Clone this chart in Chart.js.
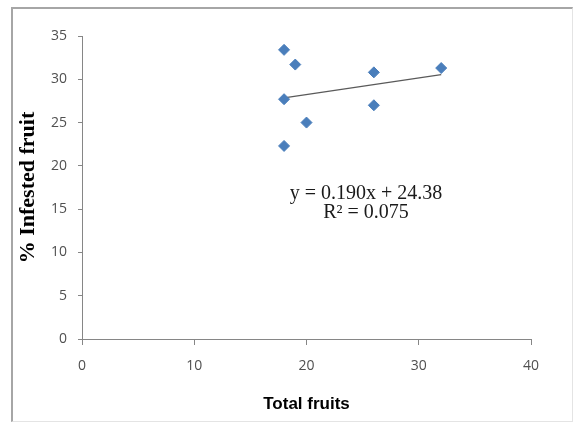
<!DOCTYPE html>
<html>
<head>
<meta charset="utf-8">
<script src="https://cdn.jsdelivr.net/npm/chart.js@4"></script>
<style>
  html, body { margin: 0; padding: 0; background: #fff; }
  #wrap { position: relative; width: 574px; height: 423px; }
  #frame {
    position: absolute; left: 11px; top: 7px; right: 1px; bottom: 1px;
    border-left: 2px solid #a6a6a6; border-top: 2px solid #a6a6a6;
    border-right: 1px solid #e4e4e4; border-bottom: 1px solid #e4e4e4;
  }
  #chart { position: absolute; left: 0; top: 0; }
</style>
</head>
<body>
<div id="wrap">
  <div id="frame"></div>
  <canvas id="chart" width="574" height="423"></canvas>
</div>
<script>
// total fruits per sample and % infested fruit
const totalFruits = [18, 19, 26, 32, 18, 26, 20, 18];
const infestedPct = [33.4, 31.7, 30.8, 31.3, 27.7, 27.0, 25.0, 22.3];

const xTicks = [0, 10, 20, 30, 40];
const yTicks = [0, 5, 10, 15, 20, 25, 30, 35];

const xTitle = "Total fruits";
const yTitle = "% Infested fruit";
const equationText = "y = 0.190x + 24.38";
const rSquaredText = "R\u00B2 = 0.075";

// least squares fit of the points, drawn between the smallest and largest x
function linearFit(xs, ys) {
  const n = xs.length;
  const mx = xs.reduce((a, b) => a + b, 0) / n;
  const my = ys.reduce((a, b) => a + b, 0) / n;
  let sxy = 0;
  let sxx = 0;
  for (let i = 0; i < n; i++) {
    sxy += (xs[i] - mx) * (ys[i] - my);
    sxx += (xs[i] - mx) * (xs[i] - mx);
  }
  const slope = sxy / sxx;
  return { slope: slope, intercept: my - slope * mx };
}

const fit = linearFit(totalFruits, infestedPct);
const xMin = Math.min(...totalFruits);
const xMax = Math.max(...totalFruits);
const trendPoints = [
  { x: xMin, y: fit.slope * xMin + fit.intercept },
  { x: xMax, y: fit.slope * xMax + fit.intercept },
];

const equationLabel = {
  id: "equationLabel",
  afterDatasetsDraw(chart) {
    const { ctx, chartArea } = chart;
    const cx = chartArea.left + 284;
    ctx.save();
    ctx.fillStyle = "#1a1a1a";
    ctx.font = "20px 'Liberation Serif', 'Times New Roman', serif";
    ctx.textAlign = "center";
    ctx.textBaseline = "middle";
    ctx.fillText(equationText, cx, chartArea.top + 158);
    ctx.fillText(rSquaredText, cx, chartArea.top + 177);
    ctx.restore();
  },
};

const axisGray = "#868686";
const tickFont = { family: "'Open Sans', 'Liberation Sans', sans-serif", size: 14 };

new Chart(document.getElementById("chart"), {
  type: "scatter",
  data: {
    datasets: [
      {
        label: "% Infested fruit",
        data: totalFruits.map((x, i) => ({ x: x, y: infestedPct[i] })),
        pointStyle: "rectRot",
        pointRadius: 5.5,
        pointHoverRadius: 5.5,
        backgroundColor: "#4a7ebb",
        borderColor: "#4a7ebb",
        borderWidth: 1,
      },
      {
        label: "Linear",
        type: "line",
        data: trendPoints,
        showLine: true,
        borderColor: "#5a5a5a",
        borderWidth: 1.3,
        pointRadius: 0,
        fill: false,
      },
    ],
  },
  options: {
    responsive: false,
    animation: false,
    events: [],
    layout: {
      padding: { left: 0, top: 36, right: 43, bottom: 0 },
    },
    plugins: {
      legend: { display: false },
      tooltip: { enabled: false },
    },
    scales: {
      x: {
        type: "linear",
        min: 0,
        max: 40,
        afterBuildTicks: (scale) => {
          scale.ticks = xTicks.map((v) => ({ value: v }));
        },
        afterFit: (scale) => {
          scale.height = 84;
        },
        grid: {
          drawOnChartArea: false,
          drawTicks: true,
          tickLength: 6,
          tickColor: axisGray,
        },
        border: { display: true, color: axisGray, width: 1 },
        ticks: {
          color: "#505050",
          font: tickFont,
          padding: 13,
          maxRotation: 0,
        },
        title: {
          display: true,
          text: xTitle,
          color: "#000",
          font: {
            family: "'Liberation Sans Narrow', 'Liberation Sans', sans-serif",
            size: 17,
            weight: "bold",
          },
          padding: { top: 0, bottom: 8 },
        },
      },
      y: {
        type: "linear",
        min: 0,
        max: 35,
        afterBuildTicks: (scale) => {
          scale.ticks = yTicks.map((v) => ({ value: v }));
        },
        afterFit: (scale) => {
          scale.width = 82;
        },
        grid: {
          drawOnChartArea: false,
          drawTicks: true,
          tickLength: 4,
          tickColor: axisGray,
        },
        border: { display: true, color: axisGray, width: 1 },
        ticks: {
          color: "#505050",
          font: tickFont,
          padding: 11,
        },
        title: {
          display: true,
          text: yTitle,
          color: "#000",
          font: {
            family: "'Liberation Serif', 'Times New Roman', serif",
            size: 22,
            weight: "bold",
          },
          padding: { top: 15, bottom: 0 },
        },
      },
    },
  },
  plugins: [equationLabel],
});
</script>
</body>
</html>
